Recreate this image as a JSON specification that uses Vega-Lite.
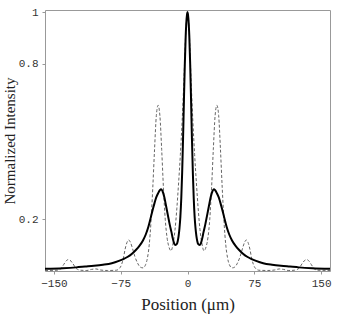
{
  "$schema": "https://vega.github.io/schema/vega-lite/v6.json",
  "width": 285,
  "height": 261,
  "autosize": {"type": "none"},
  "padding": {"left": 45, "top": 10, "right": 12, "bottom": 46},
  "background": "white",
  "config": {
    "view": {"stroke": "#999", "strokeWidth": 1},
    "axis": {
      "domain": false, "grid": false, "tickColor": "#999", "tickSize": 3,
      "labelFont": "Liberation Mono", "labelFontSize": 11, "labelColor": "#333",
      "titleFont": "Liberation Serif", "titleFontWeight": "normal", "titleColor": "#222"
    }
  },
  "datasets": {
    "solid": [
      {"x": -160, "y": 0.009}, {"x": -140, "y": 0.011}, {"x": -125, "y": 0.014}, {"x": -115, "y": 0.017},
      {"x": -105, "y": 0.02}, {"x": -95, "y": 0.024}, {"x": -85, "y": 0.03}, {"x": -77, "y": 0.039},
      {"x": -72, "y": 0.046}, {"x": -67, "y": 0.055}, {"x": -62, "y": 0.068}, {"x": -58, "y": 0.081},
      {"x": -54, "y": 0.097}, {"x": -50, "y": 0.118}, {"x": -47, "y": 0.14}, {"x": -44, "y": 0.17},
      {"x": -41, "y": 0.21}, {"x": -38, "y": 0.25}, {"x": -35, "y": 0.285}, {"x": -33, "y": 0.3},
      {"x": -31, "y": 0.312}, {"x": -29.5, "y": 0.316}, {"x": -28, "y": 0.308}, {"x": -26, "y": 0.285},
      {"x": -24, "y": 0.25}, {"x": -22, "y": 0.215}, {"x": -20, "y": 0.18}, {"x": -18, "y": 0.15},
      {"x": -16.5, "y": 0.125}, {"x": -15, "y": 0.107}, {"x": -13.5, "y": 0.1}, {"x": -12, "y": 0.104},
      {"x": -11, "y": 0.115}, {"x": -10, "y": 0.135}, {"x": -9, "y": 0.165}, {"x": -8, "y": 0.21},
      {"x": -7, "y": 0.28}, {"x": -6, "y": 0.38}, {"x": -5, "y": 0.51}, {"x": -4, "y": 0.66},
      {"x": -3, "y": 0.8}, {"x": -2, "y": 0.91}, {"x": -1, "y": 0.975}, {"x": 0, "y": 1.0},
      {"x": 1, "y": 0.975}, {"x": 2, "y": 0.91}, {"x": 3, "y": 0.8}, {"x": 4, "y": 0.66},
      {"x": 5, "y": 0.51}, {"x": 6, "y": 0.38}, {"x": 7, "y": 0.28}, {"x": 8, "y": 0.21},
      {"x": 9, "y": 0.165}, {"x": 10, "y": 0.135}, {"x": 11, "y": 0.115}, {"x": 12, "y": 0.104},
      {"x": 13.5, "y": 0.1}, {"x": 15, "y": 0.107}, {"x": 16.5, "y": 0.125}, {"x": 18, "y": 0.15},
      {"x": 20, "y": 0.18}, {"x": 22, "y": 0.215}, {"x": 24, "y": 0.25}, {"x": 26, "y": 0.285},
      {"x": 28, "y": 0.308}, {"x": 29.5, "y": 0.316}, {"x": 31, "y": 0.312}, {"x": 33, "y": 0.3},
      {"x": 35, "y": 0.285}, {"x": 38, "y": 0.25}, {"x": 41, "y": 0.21}, {"x": 44, "y": 0.17},
      {"x": 47, "y": 0.14}, {"x": 50, "y": 0.118}, {"x": 54, "y": 0.097}, {"x": 58, "y": 0.081},
      {"x": 62, "y": 0.068}, {"x": 67, "y": 0.055}, {"x": 72, "y": 0.046}, {"x": 77, "y": 0.039},
      {"x": 85, "y": 0.03}, {"x": 95, "y": 0.024}, {"x": 105, "y": 0.02}, {"x": 115, "y": 0.017},
      {"x": 125, "y": 0.014}, {"x": 140, "y": 0.011}, {"x": 160, "y": 0.009}
    ],
    "dashed": [
      {"x": -160, "y": 0.002}, {"x": -146, "y": 0.003}, {"x": -142, "y": 0.01}, {"x": -139, "y": 0.025},
      {"x": -136, "y": 0.04}, {"x": -134, "y": 0.044}, {"x": -132, "y": 0.042}, {"x": -129, "y": 0.03},
      {"x": -125, "y": 0.01}, {"x": -120, "y": 0.003}, {"x": -113, "y": 0.002}, {"x": -108, "y": 0.006},
      {"x": -103, "y": 0.008}, {"x": -98, "y": 0.004}, {"x": -90, "y": 0.002}, {"x": -80, "y": 0.003},
      {"x": -77, "y": 0.008}, {"x": -74, "y": 0.025}, {"x": -72, "y": 0.05}, {"x": -70, "y": 0.085},
      {"x": -68, "y": 0.11}, {"x": -66, "y": 0.12}, {"x": -64, "y": 0.11}, {"x": -62, "y": 0.09},
      {"x": -59, "y": 0.055}, {"x": -56, "y": 0.03}, {"x": -53, "y": 0.015}, {"x": -50, "y": 0.012},
      {"x": -47, "y": 0.025}, {"x": -45, "y": 0.05}, {"x": -43, "y": 0.1}, {"x": -41, "y": 0.19},
      {"x": -39, "y": 0.32}, {"x": -37, "y": 0.47}, {"x": -35, "y": 0.6}, {"x": -33, "y": 0.64},
      {"x": -31, "y": 0.6}, {"x": -29, "y": 0.47}, {"x": -27, "y": 0.32}, {"x": -25, "y": 0.2},
      {"x": -23, "y": 0.13}, {"x": -21, "y": 0.095}, {"x": -18.5, "y": 0.078}, {"x": -16, "y": 0.11},
      {"x": -14, "y": 0.16}, {"x": -12, "y": 0.24}, {"x": -10, "y": 0.34}, {"x": -8, "y": 0.45},
      {"x": -6, "y": 0.58}, {"x": -4, "y": 0.74}, {"x": -2, "y": 0.92}, {"x": 0, "y": 1.0},
      {"x": 2, "y": 0.92}, {"x": 4, "y": 0.74}, {"x": 6, "y": 0.58}, {"x": 8, "y": 0.45},
      {"x": 10, "y": 0.34}, {"x": 12, "y": 0.24}, {"x": 14, "y": 0.16}, {"x": 16, "y": 0.11},
      {"x": 18.5, "y": 0.078}, {"x": 21, "y": 0.095}, {"x": 23, "y": 0.13}, {"x": 25, "y": 0.2},
      {"x": 27, "y": 0.32}, {"x": 29, "y": 0.47}, {"x": 31, "y": 0.6}, {"x": 33, "y": 0.64},
      {"x": 35, "y": 0.6}, {"x": 37, "y": 0.47}, {"x": 39, "y": 0.32}, {"x": 41, "y": 0.19},
      {"x": 43, "y": 0.1}, {"x": 45, "y": 0.05}, {"x": 47, "y": 0.025}, {"x": 50, "y": 0.012},
      {"x": 53, "y": 0.015}, {"x": 56, "y": 0.03}, {"x": 59, "y": 0.055}, {"x": 62, "y": 0.09},
      {"x": 64, "y": 0.11}, {"x": 66, "y": 0.12}, {"x": 68, "y": 0.11}, {"x": 70, "y": 0.085},
      {"x": 72, "y": 0.05}, {"x": 74, "y": 0.025}, {"x": 77, "y": 0.008}, {"x": 80, "y": 0.003},
      {"x": 90, "y": 0.002}, {"x": 98, "y": 0.004}, {"x": 103, "y": 0.008}, {"x": 108, "y": 0.006},
      {"x": 113, "y": 0.002}, {"x": 120, "y": 0.003}, {"x": 125, "y": 0.01}, {"x": 129, "y": 0.03},
      {"x": 132, "y": 0.042}, {"x": 134, "y": 0.044}, {"x": 136, "y": 0.04}, {"x": 139, "y": 0.025},
      {"x": 142, "y": 0.01}, {"x": 146, "y": 0.003}, {"x": 160, "y": 0.002}
    ]
  },
  "encoding": {
    "x": {
      "field": "x", "type": "quantitative",
      "scale": {"domain": [-160, 160], "nice": false, "zero": false},
      "axis": {"values": [-150, -75, 0, 75, 150], "title": "Position (μm)", "titleFontSize": 17, "labelPadding": 3, "titlePadding": 8}
    },
    "y": {
      "field": "y", "type": "quantitative",
      "scale": {"domain": [0, 1.008], "nice": false},
      "axis": {"values": [0.2, 0.8, 1], "format": "~g", "title": "Normalized Intensity", "titleFontSize": 15, "labelPadding": 4, "titleX": -28}
    }
  },
  "layer": [
    {
      "mark": {"type": "rule", "color": "#aaa", "strokeWidth": 1},
      "encoding": {"x": {"datum": 0}, "y": {"datum": 0}, "y2": {"datum": 1.008}}
    },
    {
      "data": {"name": "dashed"},
      "mark": {"type": "line", "color": "#666", "strokeWidth": 1, "strokeDash": [3, 2], "interpolate": "monotone"}
    },
    {
      "data": {"name": "solid"},
      "mark": {"type": "line", "color": "black", "strokeWidth": 2, "interpolate": "monotone"}
    }
  ]
}
